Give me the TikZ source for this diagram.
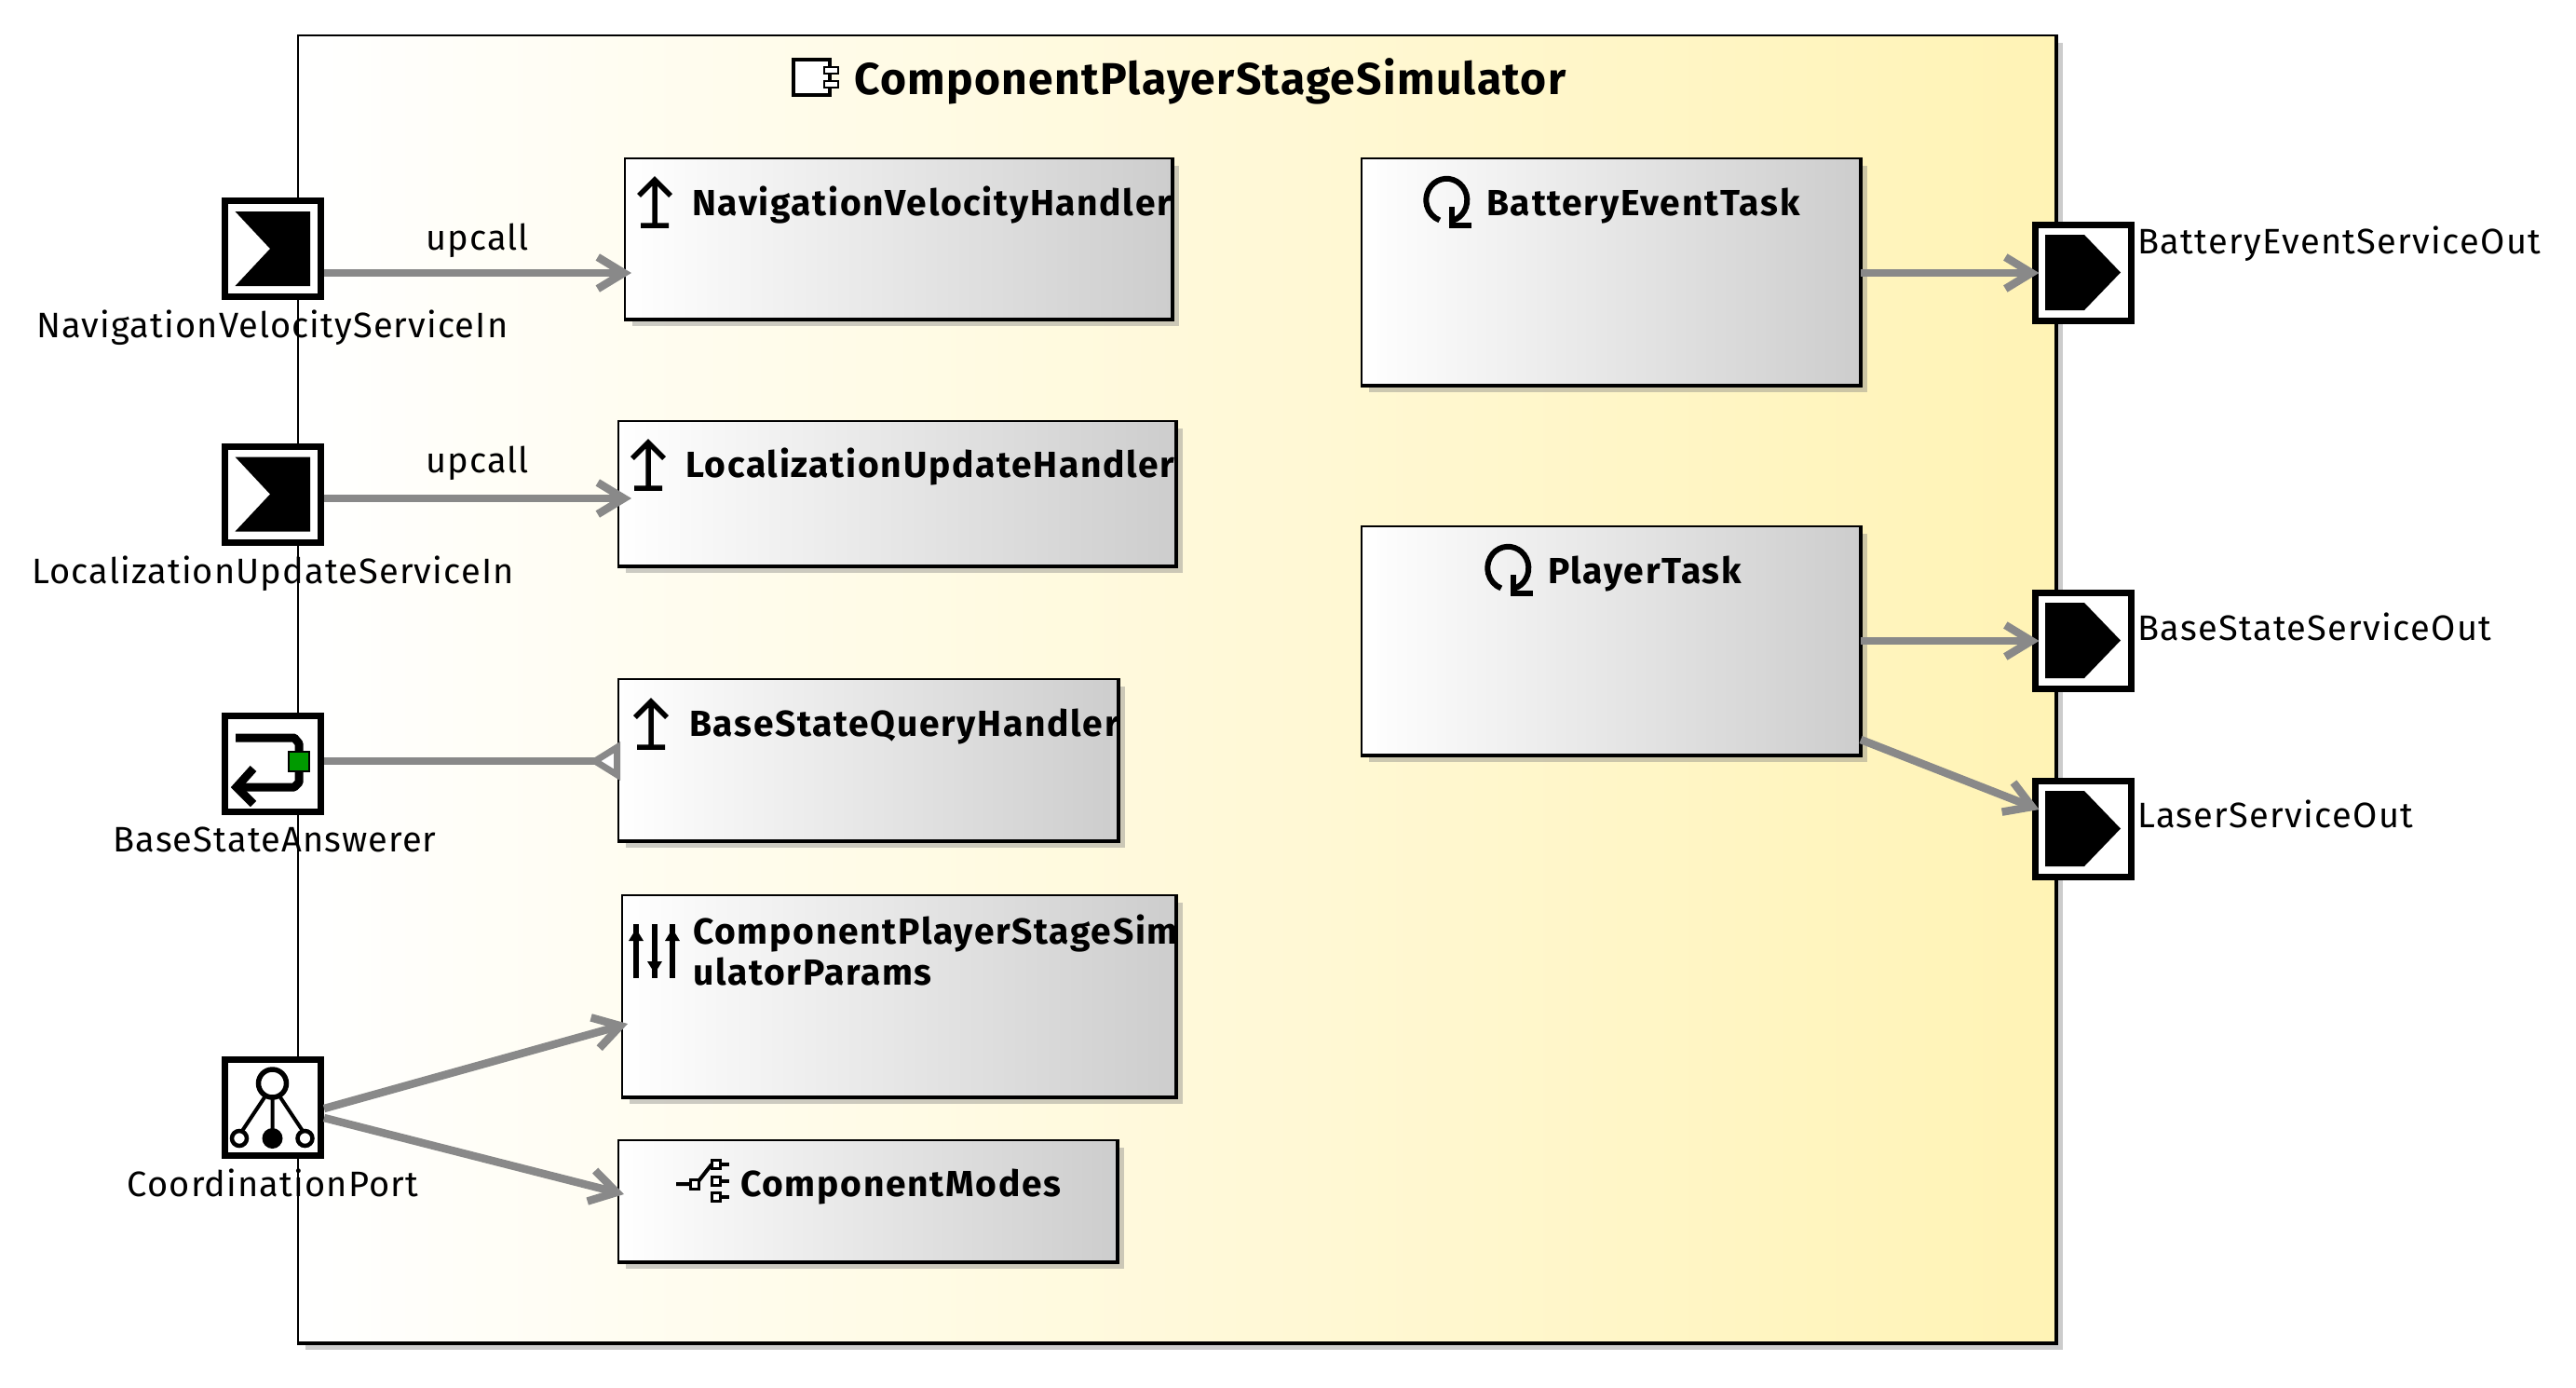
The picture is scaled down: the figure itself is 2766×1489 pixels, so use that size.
\documentclass[tikz,border=0pt]{standalone}
\usepackage{fontspec}
\setmainfont{Fira Sans}
\newfontfamily\labelfont[LetterSpace=3.0]{Fira Sans}
\newfontfamily\outfont[LetterSpace=3.5]{Fira Sans}
\newfontfamily\partfont[LetterSpace=4.3]{Fira Sans}
\newfontfamily\titlefont[LetterSpace=2.7]{Fira Sans}
\usetikzlibrary{arrows.meta,shadows}
\definecolor{connGray}{HTML}{898989}
\definecolor{panelYellow}{HTML}{FFF3B5}
\definecolor{boxGray}{HTML}{CDCDCD}
\definecolor{answerGreen}{HTML}{009A00}
% heavy right and bottom edge of a box
\newcommand{\heavyedge}[2]{\draw[line width=#2pt] (#1.north east) -- (#1.south east) -- (#1.south west);}
% port glyphs, drawn around the centre of the port node
\newcommand{\glyphin}[1]{\fill[shift={(#1)}] (-40,-40) -- (40.5,-40) -- (40.5,40) -- (-40,40) -- (-2.5,0) -- cycle;}
\newcommand{\glyphout}[1]{\fill[shift={(#1)}] (-40.5,-40.5) -- (1.5,-40.5) -- (40.5,0) -- (1.5,40.5) -- (-40.5,40.5) -- cycle;}
% box glyphs, at their top centre
\newcommand{\glyphhandler}[1]{\draw[shift={(#1)},line width=5.5pt] (-17,20) -- (0,3) -- (17,20) (0,3) -- (0,52) (-15,52) -- (15,52);}
\newcommand{\glyphtask}[1]{\draw[shift={(#1)},line width=6pt] (5,47) arc[start angle=75,end angle=-250,x radius=22,y radius=23]; \draw[shift={(#1)},line width=6pt] (5,32) -- (5,52) -- (26,52);}
\begin{document}
\begin{tikzpicture}[x=1pt,y=-1pt,
    panel/.style={draw=black,line width=2pt,left color=white,right color=panelYellow,anchor=north west,inner sep=0pt,
      drop shadow={shadow xshift=8pt,shadow yshift=-8pt,fill=gray,opacity=.4}},
    partbox/.style={draw=black,line width=2pt,left color=white,right color=boxGray,anchor=north west,inner sep=0pt,
      drop shadow={shadow xshift=8pt,shadow yshift=-8pt,fill=gray,opacity=.4}},
    port/.style={draw=black,fill=white,line width=7pt,minimum size=103pt,inner sep=0pt},
    portlabel/.style={font=\fontsize{38}{38}\selectfont\labelfont,inner sep=0pt,anchor=base},
    outlabel/.style={font=\fontsize{38}{38}\selectfont\outfont,inner sep=0pt,anchor=base west},
    partlabel/.style={font=\fontsize{39}{44}\selectfont\partfont\bfseries,inner sep=0pt,anchor=base west,align=left},
    conn/.style={draw=connGray,line width=8.5pt,-{Straight Barb[length=28pt,width=34pt,line width=8.5pt]}},
    connreq/.style={draw=connGray,line width=8.5pt,-{Triangle[reversed,open,length=34pt,width=40pt,line width=7pt,fill=white]}}]
   \useasboundingbox (0,0) rectangle (2766,1489);

   \node[panel,minimum width=1887.5pt,minimum height=1403pt] (simulator) at (318.5,37) {};
   \heavyedge{simulator}{4.5}

   \node[font=\fontsize{48}{48}\selectfont\titlefont\bfseries,inner sep=0pt,anchor=base west] (title) at (917,101) {ComponentPlayerStageSimulator};
   \draw[line width=3.5pt,fill=white] (852,64) rectangle (891,102);
   \draw[line width=2.5pt,fill=white] (885,72) rectangle (900,79);
   \draw[line width=2.5pt,fill=white] (885,87) rectangle (900,94);

   % parts
   \node[partbox,minimum width=587pt,minimum height=172pt] (navHandler) at (670,169) {};
   \node[partbox,minimum width=598pt,minimum height=155pt] (locHandler) at (663,451) {};
   \node[partbox,minimum width=536pt,minimum height=173pt] (baseHandler) at (663,728) {};
   \node[partbox,minimum width=594pt,minimum height=216pt] (params) at (667,960) {};
   \node[partbox,minimum width=535pt,minimum height=130pt] (modes) at (663,1223) {};
   \node[partbox,minimum width=535pt,minimum height=243pt] (batteryTask) at (1461,169) {};
   \node[partbox,minimum width=535pt,minimum height=245pt] (playerTask) at (1461,564) {};
   \heavyedge{navHandler}{4}
   \heavyedge{locHandler}{4}
   \heavyedge{baseHandler}{4}
   \heavyedge{params}{4}
   \heavyedge{modes}{4}
   \heavyedge{batteryTask}{4}
   \heavyedge{playerTask}{4}

   \node[partlabel] (navText) at (743,231) {NavigationVelocityHandler};
   \node[partlabel] (locText) at (736,512) {LocalizationUpdateHandler};
   \node[partlabel] (baseText) at (740,790) {BaseStateQueryHandler};
   \node[partlabel] (paramsText) at (744,1057) {ComponentPlayerStageSim\\ulatorParams};
   \node[partlabel] (modesText) at (795,1284) {ComponentModes};
   \node[partlabel] (batteryText) at (1596,231) {BatteryEventTask};
   \node[partlabel] (playerText) at (1662,626) {PlayerTask};

   \glyphhandler{703,190}
   \glyphhandler{696,472}
   \glyphhandler{699,750}
   \glyphtask{1554,190}
   \glyphtask{1620,585}

   % params glyph
   \draw[line width=6pt] (683,992) -- (683,1050) (703,992) -- (703,1050) (722,992) -- (722,1050);
   \fill (683,997) -- (691,1010) -- (675,1010) -- cycle (722,997) -- (730,1010) -- (714,1010) -- cycle (703,1045) -- (711,1032) -- (695,1032) -- cycle;

   % modes glyph
   \draw[line width=4pt] (726,1271) -- (741,1271) (750,1268) -- (764,1250);
   \draw[line width=3pt,fill=white] (741,1266) rectangle (750,1276);
   \draw[line width=3pt,fill=white] (764,1245) rectangle (773,1254);
   \draw[line width=3pt,fill=white] (764,1263) rectangle (773,1272);
   \draw[line width=3pt,fill=white] (764,1280) rectangle (773,1289);
   \draw[line width=4pt] (773,1250) -- (783,1250) (773,1268) -- (783,1268) (773,1285) -- (783,1285);

   % ports
   \node[port] (navPort) at (292.5,267) {};
   \node[port] (locPort) at (292.5,530.5) {};
   \node[port] (basePort) at (293,819.5) {};
   \node[port] (coordPort) at (293,1189) {};
   \node[port] (batteryPort) at (2236.5,292.5) {};
   \node[port] (statePort) at (2236.5,687.5) {};
   \node[port] (laserPort) at (2236.5,889.5) {};

   \glyphin{292.5,267}
   \glyphin{292.5,530.5}
   \glyphout{2236.5,292.5}
   \glyphout{2236.5,687.5}
   \glyphout{2236.5,889.5}

   % answer glyph
   \draw[line width=9pt,line join=round] (253,792) -- (316,792) -- (321,798) -- (321,840) -- (316,845) -- (256,845);
   \draw[line width=9pt] (272,825) -- (254,845) -- (272,863);
   \draw[line width=1.5pt,fill=answerGreen] (310,807) rectangle (332,828);

   % coordination glyph
   \draw[line width=5.5pt] (292.5,1163) circle[radius=15];
   \draw[line width=4.5pt] (257,1222) circle[radius=8] (327.5,1222) circle[radius=8];
   \fill (292.5,1222) circle[radius=11];
   \draw[line width=4pt] (284,1178) -- (260,1214) (292.5,1178) -- (292.5,1212) (301,1178) -- (325,1214);

   % port labels
   \node[portlabel] (navLabel) at (292.5,362) {NavigationVelocityServiceIn};
   \node[portlabel] (locLabel) at (293,626) {LocalizationUpdateServiceIn};
   \node[portlabel] (baseLabel) at (295,914) {BaseStateAnswerer};
   \node[portlabel] (coordLabel) at (293,1284) {CoordinationPort};
   \node[outlabel] (batteryLabel) at (2295,272.5) {BatteryEventServiceOut};
   \node[outlabel] (stateLabel) at (2295,687) {BaseStateServiceOut};
   \node[outlabel] (laserLabel) at (2295,888) {LaserServiceOut};

   % connectors
   \draw[conn] ([yshift=-26pt]navPort.east) -- node[midway,above=12pt,inner sep=0pt,font=\fontsize{38}{38}\selectfont\labelfont] (navCall) {upcall} ([xshift=8pt,yshift=-37pt]navHandler.west);
   \draw[conn] ([yshift=-4.5pt]locPort.east) -- node[midway,above=15pt,inner sep=0pt,font=\fontsize{38}{38}\selectfont\labelfont] (locCall) {upcall} ([xshift=15pt,yshift=-5.5pt]locHandler.west);
   \draw[connreq] ([yshift=2.5pt]basePort.east) -- ([xshift=3pt,yshift=-1.5pt]baseHandler.west);
   \draw[conn] ([yshift=-1pt]coordPort.east) -- ([xshift=7pt,yshift=-30pt]params.west);
   \draw[conn] ([yshift=-11pt]coordPort.east) -- ([xshift=7pt,yshift=7pt]modes.west);
   \draw[conn] ([yshift=-1.5pt]batteryTask.east) -- ([xshift=8pt,yshift=-0.5pt]batteryPort.west);
   \draw[conn] ([yshift=-0.5pt]playerTask.east) -- ([xshift=8pt,yshift=-0.5pt]statePort.west);
   \draw[conn] ([yshift=-106.5pt]playerTask.east) -- ([xshift=8pt,yshift=20.5pt]laserPort.west);
\end{tikzpicture}
\end{document}
